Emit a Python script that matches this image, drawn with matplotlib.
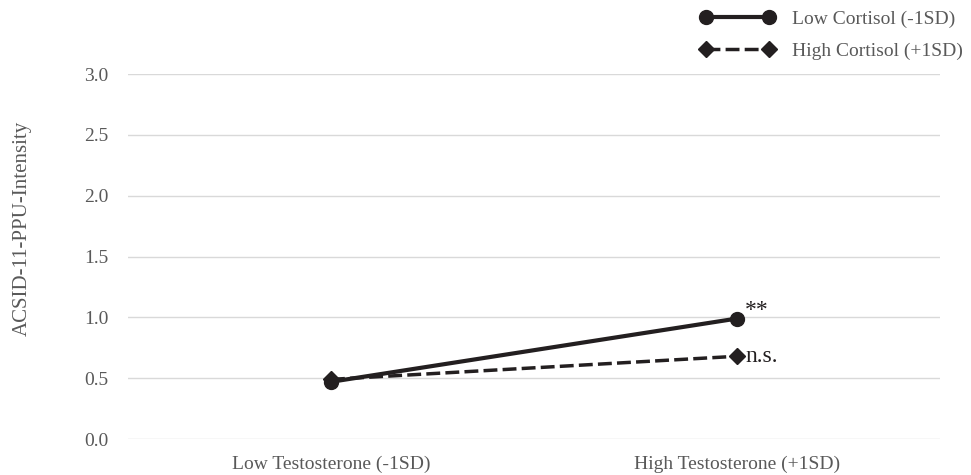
import matplotlib
matplotlib.use("Agg")
import matplotlib.pyplot as plt
from matplotlib.lines import Line2D

categories = ["Low Testosterone (-1SD)", "High Testosterone (+1SD)"]
low_cortisol = [0.47, 0.99]
high_cortisol = [0.49, 0.68]
annotations = ["**", "n.s."]
series_names = ["Low Cortisol (-1SD)", "High Cortisol (+1SD)"]
yticks = [0.0, 0.5, 1.0, 1.5, 2.0, 2.5, 3.0]

plt.rcParams['font.family'] = ['Liberation Serif', 'DejaVu Serif']
gray = '#595959'
dark = '#231f20'
dash = (0, (4, 1.5))

fig = plt.figure(figsize=(9.71, 4.75), dpi=100)
ax = fig.add_axes([128/971, 1-439/475, (940-128)/971, (439-74)/475])

x = [0.5, 1.5]
ax.plot(x, low_cortisol, color=dark, lw=3, marker='o', ms=10, zorder=3)
ax.plot(x, high_cortisol, color=dark, lw=2.5, ls=dash, marker='D', ms=8.5, zorder=3)
ax.text(x[1] + 0.02, low_cortisol[1] - 0.02, annotations[0], fontsize=17, color=dark, va='bottom', ha='left')
ax.text(x[1] + 0.02, high_cortisol[1], annotations[1], fontsize=17, color=dark, va='center', ha='left')

ax.set_xlim(0, 2)
ax.set_ylim(0, 3.0)
ax.set_yticks(yticks)
ax.set_yticklabels([f"{v:.1f}" for v in yticks])
ax.set_xticks(x)
ax.set_xticklabels(categories)
ax.tick_params(axis='both', length=0, labelsize=14, labelcolor=gray)
ax.tick_params(axis='x', pad=12)
ax.tick_params(axis='y', pad=14)
ax.grid(axis='y', color='#d9d9d9', lw=1)
ax.set_axisbelow(True)
for s in ax.spines.values():
    s.set_visible(False)

fig.text(22/971, 1-228/475, "ACSID-11-PPU-Intensity", rotation=90, va='center', ha='center',
         fontsize=15, color=gray)

handles = [
    Line2D([], [], color=dark, lw=3, marker='o', ms=10),
    Line2D([], [], color=dark, lw=2.5, ls=dash, marker='D', ms=8.5),
]
leg = fig.legend(handles, series_names, loc='upper left', bbox_to_anchor=(683/971, 1.015),
                 frameon=False, fontsize=14, labelcolor=gray, handlelength=3.8, numpoints=2,
                 labelspacing=0.75, handletextpad=0.9)

fig.savefig("out.png", dpi=100)
